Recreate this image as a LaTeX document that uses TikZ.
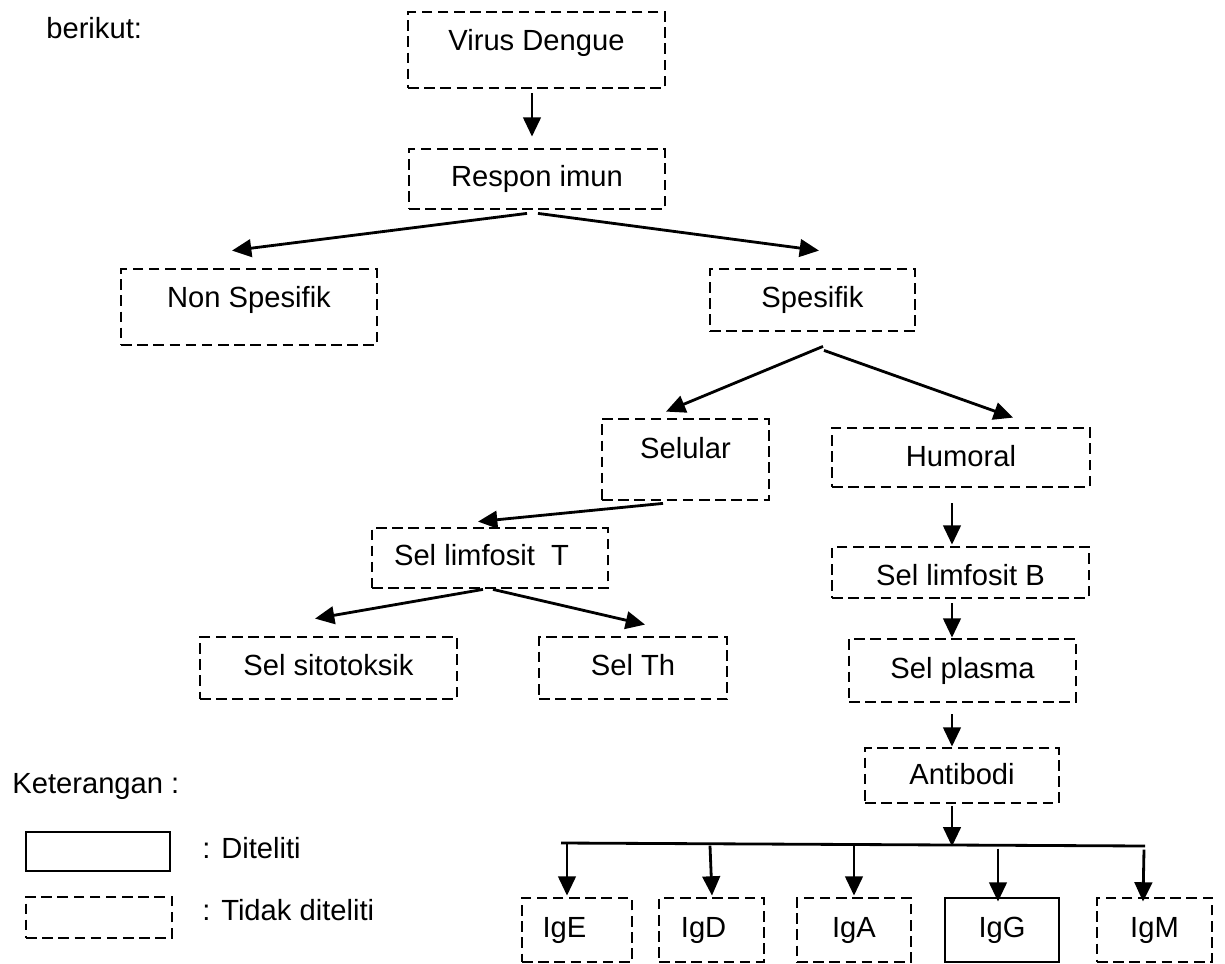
\documentclass[tikz,border=0pt]{standalone}
\usepackage{fontspec}
\setmainfont{Liberation Sans}
\usetikzlibrary{calc}
\usetikzlibrary{arrows.meta}

\tikzset{
	kotak/.style={draw, line width=1.6pt, dash pattern=on 6pt off 3.2pt, inner sep=0pt, text depth=6pt, text height=#1},
	kotak/.default=6pt,
	diteliti/.style={draw, line width=1.6pt, inner sep=0pt, text depth=6pt, text height=#1},
	diteliti/.default=6pt,
	panah/.style={-{Triangle[length=11pt,width=10pt]}, line width=1.6pt},
}

\begin{document}
\begin{tikzpicture}[x=0.02cm, y=-0.02cm, font=\fontsize{16.6}{19}\selectfont]
	\useasboundingbox (0,0) rectangle (1225,964);

	\node[anchor=base west, inner sep=0pt] (berikut) at (46,38) {berikut:};

	% respon imun
	\node[kotak, minimum width=5.14cm, minimum height=1.52cm] (virus) at (536.5,50) {Virus Dengue};
	\node[kotak=14.8pt, minimum width=5.12cm, minimum height=1.2cm] (respon) at (537,179) {Respon imun};
	\node[kotak, minimum width=5.12cm, minimum height=1.52cm] (nonspes) at (249,307) {Non Spesifik};
	\node[kotak=14pt, minimum width=4.1cm, minimum height=1.24cm] (spes) at (812.5,300) {Spesifik};

	\draw[panah] ($(virus.south)+(-4.5,4)$) -- ($(respon.north)+(-5,-11)$);
	\draw[panah] ($(respon.south)+(-10,3)$) -- ($(nonspes.north)+(-17,-17)$);
	\draw[panah] ($(respon.south)+(1,3)$) -- ($(spes.north)+(6.5,-17)$);

	% selular
	\node[kotak=4.3pt, minimum width=3.34cm, minimum height=1.62cm] (selular) at (685.5,459.5) {Selular};
	\node[kotak=15pt, minimum width=4.72cm, minimum height=1.2cm] (limfT) at (490,558) {Sel limfosit~~T\hspace*{9.6pt}};
	\node[kotak=14pt, minimum width=5.14cm, minimum height=1.24cm] (sitotoksik) at (328.5,668) {Sel sitotoksik};
	\node[kotak=14pt, minimum width=3.76cm, minimum height=1.24cm] (selTh) at (633,668) {Sel Th};

	\draw[panah] ($(spes.south)+(10.5,14)$) -- ($(selular.north)+(-19.5,-6)$);
	\draw[panah] ($(selular.south)+(-22.5,2)$) -- ($(limfT.north)+(-12,-5)$);
	\draw[panah] ($(limfT.south)+(-7,0)$) -- ($(sitotoksik.north)+(-13.5,-17)$);
	\draw[panah] ($(limfT.south)+(3,0)$) -- ($(selTh.north)+(12,-11)$);

	% humoral
	\node[kotak=16.8pt, minimum width=5.16cm, minimum height=1.18cm] (humoral) at (961,457.5) {Humoral};
	\node[kotak=21.3pt, minimum width=5.14cm, minimum height=1.02cm] (limfB) at (960.5,572.5) {Sel limfosit B};
	\node[kotak=15.6pt, minimum width=4.54cm, minimum height=1.26cm] (plasma) at (962.5,670.5) {Sel plasma};
	\node[kotak=16.8pt, minimum width=3.88cm, minimum height=1.1cm] (antibodi) at (962,775.5) {Antibodi};

	\draw[panah] ($(spes.south)+(11.5,18)$) -- ($(humoral.north)+(52,-9)$);
	\draw[panah] ($(humoral.south)+(-9,15)$) -- ($(limfB.north)+(-8.5,-1)$);
	\draw[panah] ($(limfB.south)+(-8.5,4)$) -- ($(plasma.north)+(-10.5,0)$);
	\draw[panah] ($(plasma.south)+(-10.5,11)$) -- ($(antibodi.north)+(-10,0)$);

	% jenis antibodi
	\node[kotak=14pt, minimum width=2.2cm, minimum height=1.28cm] (igE) at (577,930) {IgE\hspace*{14.2pt}};
	\node[kotak=14pt, minimum width=2.1cm, minimum height=1.28cm] (igD) at (711.5,930) {IgD\hspace*{9pt}};
	\node[kotak=14pt, minimum width=2.28cm, minimum height=1.28cm] (igA) at (854,930) {IgA};
	\node[diteliti=14pt, minimum width=2.28cm, minimum height=1.28cm] (igG) at (1002,930) {IgG};
	\node[kotak=14pt, minimum width=2.3cm, minimum height=1.28cm] (igM) at (1154.5,930) {IgM};

	\coordinate (busL) at (561,843);
	\coordinate (busR) at (1145,846);
	\draw[line width=1.6pt] (busL) -- (busR);
	\draw[panah] ($(antibodi.south)+(-10,2)$) -- ($(antibodi.south)+(-10,42)$);

	\draw[panah] ($(igE.north)+(-10,-53)$) -- ($(igE.north)+(-10,-1)$);
	\draw[panah] ($(igD.north)+(-1.5,-51)$) -- ($(igD.north)+(0.5,-1)$);
	\draw[panah] ($(igA.north)+(0,-51)$) -- ($(igA.north)+(0,-1)$);
	\draw[panah] ($(igG.north)+(-4,-48)$) -- ($(igG.north)+(-4,5)$);
	\draw[panah] ($(igM.north)+(-10.5,-47)$) -- ($(igM.north)+(-11.5,5)$);

	% keterangan
	\node[anchor=base west, inner sep=0pt] (keterangan) at (12,793) {Keterangan :};
	\node[diteliti, minimum width=2.88cm, minimum height=0.78cm] (ketA) at (98,851.5) {};
	\node[kotak, minimum width=2.92cm, minimum height=0.82cm] (ketB) at (99,917.5) {};
	\node[anchor=base west, inner sep=0pt] (ketAteks) at (202,858) {: Diteliti};
	\node[anchor=base west, inner sep=0pt] (ketBteks) at (202,920) {: Tidak diteliti};

\end{tikzpicture}
\end{document}
